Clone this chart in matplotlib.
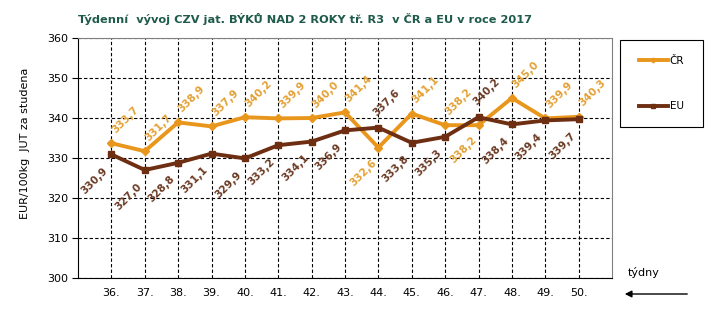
import matplotlib
matplotlib.use("Agg")
import matplotlib.pyplot as plt
from matplotlib.patches import Rectangle

weeks = [36, 37, 38, 39, 40, 41, 42, 43, 44, 45, 46, 47, 48, 49, 50]
week_labels = [f"{w}." for w in weeks]
cr = [333.7, 331.7, 338.9, 337.9, 340.2, 339.9, 340.0, 341.4, 332.6, 341.1, 338.2, 338.2, 345.0, 339.9, 340.3]
eu = [330.9, 327.0, 328.8, 331.1, 329.9, 333.2, 334.1, 336.9, 337.6, 333.8, 335.3, 340.2, 338.4, 339.4, 339.7]
# label placement: True = above point, False = below
cr_above = [True]*15
cr_above[8] = False
cr_above[11] = False
eu_above = [False]*15
eu_above[8] = True
eu_above[11] = True

c_cr = "#E8961C"
c_cr_txt = "#E3A034"
c_eu = "#6E2E12"
c_eu_txt = "#6B3A24"

fig = plt.figure(figsize=(7.13, 3.25), dpi=100)
ax = fig.add_axes([78/713, 1-278/325, (612-78)/713, (278-38)/325])

ax.plot(weeks, cr, color=c_cr, lw=2.8, marker="D", ms=4, zorder=3, label="ČR")
ax.plot(weeks, eu, color=c_eu, lw=2.8, marker="s", ms=4.5, zorder=4, label="EU")

def fmt(v):
    return f"{v:.1f}".replace(".", ",")

for x, v, up in zip(weeks, cr, cr_above):
    if up:
        ax.annotate(fmt(v), (x, v), xytext=(-1, 6), textcoords="offset points",
                    rotation=45, ha="left", va="bottom", fontsize=7.5,
                    fontweight="bold", color=c_cr_txt, zorder=5)
    else:
        ax.annotate(fmt(v), (x, v), xytext=(0, -7), textcoords="offset points",
                    rotation=45, ha="right", va="top", fontsize=7.5,
                    fontweight="bold", color=c_cr_txt, zorder=5)
for x, v, up in zip(weeks, eu, eu_above):
    if up:
        ax.annotate(fmt(v), (x, v), xytext=(-5, 7), textcoords="offset points",
                    rotation=45, ha="left", va="bottom", fontsize=7.5,
                    fontweight="bold", color=c_eu_txt, zorder=5)
    else:
        ax.annotate(fmt(v), (x, v), xytext=(-1, -8), textcoords="offset points",
                    rotation=45, ha="right", va="top", fontsize=7.5,
                    fontweight="bold", color=c_eu_txt, zorder=5)

ax.set_xlim(35, 51)
ax.set_ylim(300, 360)
ax.set_yticks(range(300, 361, 10))
ax.set_xticks(weeks)
ax.set_xticklabels(week_labels)
ax.tick_params(axis="x", length=0, labelsize=8, pad=7)
ax.tick_params(axis="y", length=4, direction="out", labelsize=8, pad=3)
ax.grid(True, color="black", linestyle=(0, (3, 2)), linewidth=0.8)
ax.spines["top"].set_color("#808080")
ax.spines["right"].set_color("#808080")
ax.spines["left"].set_color("black")
ax.spines["bottom"].set_color("black")

fig.text(305/713, 1-19/325, "Týdenní  vývoj CZV jat. BÝKŮ NAD 2 ROKY tř. R3  v ČR a EU v roce 2017",
         ha="center", va="center", fontsize=8.2, fontweight="bold", color="#1E5B4A")
fig.text(25/713, 0.56, "EUR/100kg  JUT za studena", rotation=90, ha="center", va="center", fontsize=8)

# legend frame
fig.patches.append(Rectangle((620/713, 1-127/325), 83/713, 87/325, transform=fig.transFigure,
                             facecolor="white", edgecolor="black", linewidth=0.8, figure=fig))
leg = fig.legend(loc="center", bbox_to_anchor=(620/713, 1-127/325, 83/713, 87/325),
                 frameon=False, fontsize=7.5,
                 labelspacing=3.4, handlelength=2.8, handletextpad=0.2, markerscale=0.6)

fig.text(628/713, 1-272/325, "týdny", ha="left", va="center", fontsize=8)
ax.annotate("", xy=(622/713, 1-294/325), xytext=(690/713, 1-294/325),
            xycoords="figure fraction", textcoords="figure fraction",
            arrowprops=dict(arrowstyle="-|>", color="black", lw=1, mutation_scale=10),
            annotation_clip=False)

fig.savefig("out.png", dpi=100)
